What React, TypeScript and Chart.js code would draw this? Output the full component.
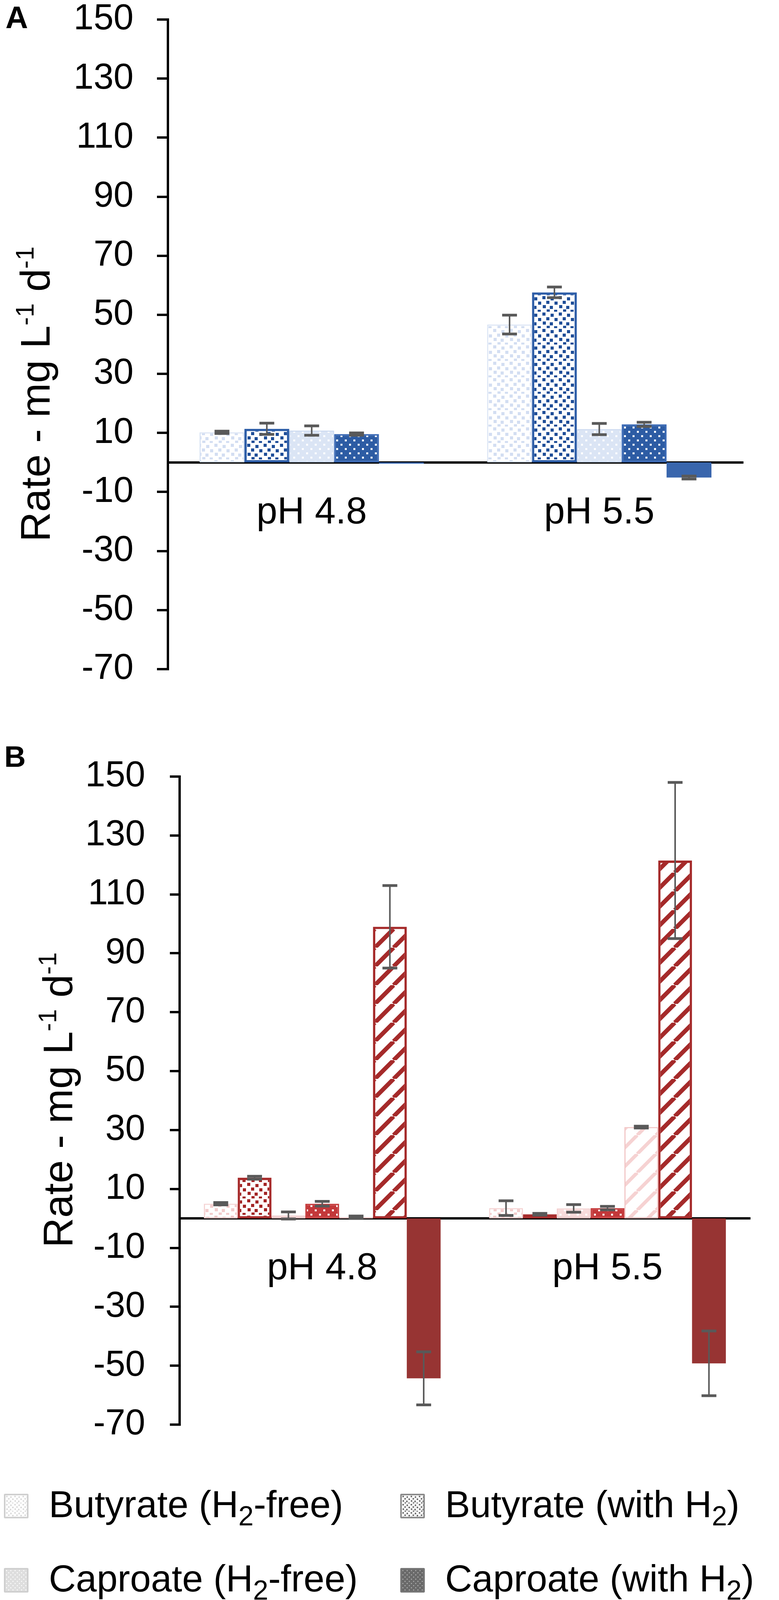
import React, { useEffect, useRef, useState } from "react";
import { Chart, registerables } from "chart.js";

Chart.register(...registerables);

const FONT = "'Liberation Sans', Arial, 'DejaVu Sans', sans-serif";

// ---- data ----
const categories = ["pH 4.8", "pH 5.5"];
const yTickValues = [-70, -50, -30, -10, 10, 30, 50, 70, 90, 110, 130, 150];
// axis title, with the "-1" parts set as superscripts
const axisTitleParts = [
  { text: "Rate - mg L", sup: false },
  { text: "-1", sup: true },
  { text: " d", sup: false },
  { text: "-1", sup: true },
];

// panel A (blue)
const butyrateFreeA = [10.2, 46.7];
const butyrateFreeAErr = [0.4, 3.2];
const butyrateH2A = [11.4, 57.6];
const butyrateH2AErr = [1.9, 1.8];
const caproateFreeA = [10.8, 11.3];
const caproateFreeAErr = [1.6, 1.9];
const caproateH2A = [9.6, 12.9];
const caproateH2AErr = [0.4, 0.7];
const hydrogenA = [-0.4, -5.1];
const hydrogenAErr = [0, 0.5];

// panel B (red)
const butyrateFreeB = [5.0, 3.5];
const butyrateFreeBErr = [0.4, 2.5];
const butyrateH2B = [13.8, 1.4];
const butyrateH2BErr = [0.5, 0.3];
const caproateFreeB = [1.0, 3.4];
const caproateFreeBErr = [1.2, 1.3];
const caproateH2B = [5.0, 3.5];
const caproateH2BErr = [0.8, 0.6];
const methaneFreeB = [0.4, 31.0];
const methaneFreeBErr = [0.4, 0.3];
const methaneH2B = [99.0, 121.5];
const methaneH2BErr = [14.0, 26.5];
const hydrogenB = [-54.3, -49.2];
const hydrogenBErr = [9.0, 11.0];

// ---- fills ----
type Fill = {
  kind: "confetti" | "dots" | "stripes" | "solid";
  fg: string;
  bg: string;
  line?: number;
  scale?: number;
};

const confettiSpots = [
  [3, 2], [24, 5], [13, 14], [34, 16], [4, 25], [22, 27], [14, 36], [33, 37],
];

function makeTile(f: Fill): HTMLCanvasElement {
  const s = f.scale ?? 1;
  const c = document.createElement("canvas");
  const ctx = c.getContext("2d")!;
  if (f.kind === "confetti") {
    const n = Math.round(42 * s);
    c.width = c.height = n;
    ctx.fillStyle = f.bg;
    ctx.fillRect(0, 0, n, n);
    ctx.fillStyle = f.fg;
    for (const [x, y] of confettiSpots) ctx.fillRect(x * s, y * s, 8 * s, 8 * s);
  } else if (f.kind === "dots") {
    const n = Math.round(22 * s);
    c.width = c.height = n;
    ctx.fillStyle = f.bg;
    ctx.fillRect(0, 0, n, n);
    ctx.fillStyle = f.fg;
    ctx.fillRect(3 * s, 3 * s, 5 * s, 5 * s);
    ctx.fillRect(14 * s, 14 * s, 5 * s, 5 * s);
  } else if (f.kind === "stripes") {
    const n = Math.round(48 * s);
    c.width = c.height = n;
    ctx.fillStyle = f.bg;
    ctx.fillRect(0, 0, n, n);
    ctx.strokeStyle = f.fg;
    ctx.lineWidth = (f.line ?? 11) * s;
    for (const k of [-n, 0, n]) {
      ctx.beginPath();
      ctx.moveTo(k, n);
      ctx.lineTo(k + n, 0);
      ctx.stroke();
    }
  } else {
    c.width = c.height = 4;
    ctx.fillStyle = f.fg;
    ctx.fillRect(0, 0, 4, 4);
  }
  return c;
}

type Series = {
  label: string;
  data: number[];
  errors: number[];
  fill: Fill;
  border: string;
  borderWidth: number;
};

const seriesA: Series[] = [
  { label: "Butyrate (H2-free)", data: butyrateFreeA, errors: butyrateFreeAErr, fill: { kind: "confetti", fg: "#d3def2", bg: "#ffffff" }, border: "#dae4f4", borderWidth: 3 },
  { label: "Butyrate (with H2)", data: butyrateH2A, errors: butyrateH2AErr, fill: { kind: "confetti", fg: "#1f4e98", bg: "#ffffff" }, border: "#2e5ea8", borderWidth: 6 },
  { label: "Caproate (H2-free)", data: caproateFreeA, errors: caproateFreeAErr, fill: { kind: "dots", fg: "#ffffff", bg: "#dbe5f5" }, border: "#c9d8f0", borderWidth: 3 },
  { label: "Caproate (with H2)", data: caproateH2A, errors: caproateH2AErr, fill: { kind: "dots", fg: "#ffffff", bg: "#2d5ca4" }, border: "#3a69b5", borderWidth: 4 },
  { label: "H2", data: hydrogenA, errors: hydrogenAErr, fill: { kind: "solid", fg: "#3966ad", bg: "#3966ad" }, border: "#3966ad", borderWidth: 0 },
];

const seriesB: Series[] = [
  { label: "Butyrate (H2-free)", data: butyrateFreeB, errors: butyrateFreeBErr, fill: { kind: "confetti", fg: "#f3cccc", bg: "#ffffff" }, border: "#f5d3d3", borderWidth: 3 },
  { label: "Butyrate (with H2)", data: butyrateH2B, errors: butyrateH2BErr, fill: { kind: "confetti", fg: "#a32525", bg: "#ffffff" }, border: "#a82d2d", borderWidth: 6 },
  { label: "Caproate (H2-free)", data: caproateFreeB, errors: caproateFreeBErr, fill: { kind: "dots", fg: "#ffffff", bg: "#f8dcdc" }, border: "#f3cfcf", borderWidth: 3 },
  { label: "Caproate (with H2)", data: caproateH2B, errors: caproateH2BErr, fill: { kind: "dots", fg: "#ffffff", bg: "#c3383a" }, border: "#c63d3e", borderWidth: 4 },
  { label: "CH4 (H2-free)", data: methaneFreeB, errors: methaneFreeBErr, fill: { kind: "stripes", fg: "#f6d2d2", bg: "#ffffff", line: 9 }, border: "#f2c6c6", borderWidth: 3 },
  { label: "CH4 (with H2)", data: methaneH2B, errors: methaneH2BErr, fill: { kind: "stripes", fg: "#a52a2a", bg: "#ffffff", line: 11 }, border: "#a52a2a", borderWidth: 6 },
  { label: "H2", data: hydrogenB, errors: hydrogenBErr, fill: { kind: "solid", fg: "#973433", bg: "#973433" }, border: "#973433", borderWidth: 0 },
];

const Sub: React.FC<{ children: React.ReactNode }> = ({ children }) => (
  <span style={{ fontSize: "0.73em", position: "relative", top: "0.3em" }}>{children}</span>
);

const legendItems: { text: React.ReactNode; fill: Fill; border: string }[] = [
  { text: <>Butyrate (H<Sub>2</Sub>-free)</>, fill: { kind: "confetti", fg: "#dadada", bg: "#ffffff", scale: 0.5 }, border: "#cfcfcf" },
  { text: <>Butyrate (with H<Sub>2</Sub>)</>, fill: { kind: "confetti", fg: "#6f6f6f", bg: "#ffffff", scale: 0.5 }, border: "#8a8a8a" },
  { text: <>Caproate (H<Sub>2</Sub>-free)</>, fill: { kind: "dots", fg: "#ffffff", bg: "#dedede", scale: 0.5 }, border: "#cfcfcf" },
  { text: <>Caproate (with H<Sub>2</Sub>)</>, fill: { kind: "dots", fg: "#b5b5b5", bg: "#6a6a6a", scale: 0.5 }, border: "#777777" },
  { text: <>CH<Sub>4</Sub> (H<Sub>2</Sub>-free)</>, fill: { kind: "stripes", fg: "#dcdcdc", bg: "#ffffff", line: 9, scale: 0.7 }, border: "#cfcfcf" },
  { text: <>CH<Sub>4</Sub> (with H<Sub>2</Sub>)</>, fill: { kind: "stripes", fg: "#707070", bg: "#ffffff", line: 11, scale: 0.7 }, border: "#7a7a7a" },
  { text: <>H<Sub>2</Sub></>, fill: { kind: "solid", fg: "#6b6b6b", bg: "#6b6b6b" }, border: "#6b6b6b" },
];

// ---- plugins ----
const errorBarPlugin = {
  id: "errorBars",
  afterDatasetsDraw(chart: any) {
    const ctx: CanvasRenderingContext2D = chart.ctx;
    const y = chart.scales.y;
    chart.data.datasets.forEach((ds: any, di: number) => {
      const meta = chart.getDatasetMeta(di);
      if (!ds.errors || meta.hidden) return;
      meta.data.forEach((bar: any, i: number) => {
        const v = ds.data[i] as number;
        const e = ds.errors[i] as number;
        if (!e) return;
        const hi = y.getPixelForValue(v + e);
        const lo = y.getPixelForValue(v - e);
        ctx.save();
        ctx.strokeStyle = "#595959";
        ctx.lineWidth = 4;
        ctx.beginPath();
        ctx.moveTo(bar.x, hi);
        ctx.lineTo(bar.x, lo);
        ctx.stroke();
        ctx.lineWidth = 7;
        ctx.beginPath();
        ctx.moveTo(bar.x - 19, hi);
        ctx.lineTo(bar.x + 19, hi);
        ctx.moveTo(bar.x - 19, lo);
        ctx.lineTo(bar.x + 19, lo);
        ctx.stroke();
        ctx.restore();
      });
    });
  },
};

// rotated y-axis title with superscripts
const axisTitlePlugin = {
  id: "axisTitle",
  afterDraw(chart: any, _args: any, opts: any) {
    const ctx: CanvasRenderingContext2D = chart.ctx;
    const size = 106;
    const supSize = 64;
    const fontOf = (sup: boolean) => `${sup ? supSize : size}px ${FONT}`;
    let total = 0;
    for (const p of axisTitleParts) {
      ctx.font = fontOf(p.sup);
      total += ctx.measureText(p.text).width;
    }
    ctx.save();
    ctx.translate(opts.baseX, opts.centerY);
    ctx.rotate(-Math.PI / 2);
    ctx.fillStyle = "#000";
    ctx.textBaseline = "alphabetic";
    ctx.textAlign = "left";
    let x = -total / 2;
    for (const p of axisTitleParts) {
      ctx.font = fontOf(p.sup);
      ctx.fillText(p.text, x, p.sup ? -41 : 0);
      x += ctx.measureText(p.text).width;
    }
    ctx.restore();
  },
};

interface PanelProps {
  top: number;
  height: number;
  axisX: number;
  plotTop: number;
  plotBottom: number;
  plotRight: number;
  catPct: number;
  tickLen: number;
  tickPad: number;
  titleBaseX: number;
  titleCenterY: number;
  series: Series[];
}

const W = 1995;

const Panel: React.FC<PanelProps> = (p) => {
  const canvasRef = useRef<HTMLCanvasElement | null>(null);

  useEffect(() => {
    if (!canvasRef.current) return;
    const ctx = canvasRef.current.getContext("2d")!;
    const chart = new Chart(canvasRef.current, {
      type: "bar",
      data: {
        labels: categories,
        datasets: p.series.map((s) => ({
          label: s.label,
          data: s.data,
          errors: s.errors,
          backgroundColor: ctx.createPattern(makeTile(s.fill), "repeat") as any,
          borderColor: s.border,
          borderWidth: s.borderWidth,
          borderSkipped: false,
          barPercentage: 1,
          categoryPercentage: p.catPct,
        })) as any,
      },
      options: {
        animation: false,
        responsive: false,
        devicePixelRatio: 1,
        layout: {
          padding: { left: 0, top: p.plotTop, right: W - p.plotRight, bottom: p.height - p.plotBottom },
        },
        plugins: {
          legend: { display: false },
          tooltip: { enabled: false },
          axisTitle: { baseX: p.titleBaseX, centerY: p.titleCenterY },
        } as any,
        scales: {
          x: {
            type: "category",
            position: { y: 0 } as any,
            offset: true,
            grid: { display: true, drawOnChartArea: false, drawTicks: false },
            border: { display: true, color: "#000", width: 6 },
            ticks: { color: "#000", font: { family: FONT, size: 96 }, padding: 72, maxRotation: 0 },
            afterFit: (s: any) => {
              s.paddingLeft = 0;
              s.paddingRight = 0;
            },
          },
          y: {
            type: "linear",
            min: -70,
            max: 150,
            grid: { drawOnChartArea: false, drawTicks: true, tickLength: p.tickLen, color: "#000", lineWidth: 6 },
            border: { display: true, color: "#000", width: 6 },
            ticks: { color: "#000", font: { family: FONT, size: 92 }, padding: p.tickPad },
            afterBuildTicks: (s: any) => {
              s.ticks = yTickValues.map((v) => ({ value: v }));
            },
            afterFit: (s: any) => {
              s.width = p.axisX;
              s.paddingTop = 0;
              s.paddingBottom = 0;
            },
          },
        },
      },
      plugins: [errorBarPlugin, axisTitlePlugin],
    });
    return () => chart.destroy();
  }, [p]);

  return (
    <canvas
      ref={canvasRef}
      width={W}
      height={p.height}
      style={{ position: "absolute", left: 0, top: p.top, width: W, height: p.height }}
    />
  );
};

const Swatch: React.FC<{ fill: Fill; border: string }> = ({ fill, border }) => {
  const [url, setUrl] = useState("");
  useEffect(() => {
    setUrl(makeTile(fill).toDataURL());
  }, [fill]);
  return (
    <div
      style={{
        boxSizing: "border-box",
        width: 63,
        height: 63,
        flex: "0 0 63px",
        borderRadius: 3,
        border: `4px solid ${border}`,
        backgroundImage: url ? `url(${url})` : undefined,
        backgroundColor: fill.kind === "solid" ? fill.fg : "#fff",
      }}
    />
  );
};

const panelA: PanelProps = {
  top: 0, height: 1800, axisX: 430, plotTop: 50, plotBottom: 1713, plotRight: 1903,
  catPct: 0.78, tickLen: 28, tickPad: 60, titleBaseX: 127, titleCenterY: 1009, series: seriesA,
};
const panelB: PanelProps = {
  top: 1850, height: 1900, axisX: 460, plotTop: 138, plotBottom: 1797, plotRight: 1921,
  catPct: 0.83, tickLen: 25, tickPad: 63, titleBaseX: 185, titleCenterY: 966, series: seriesB,
};

const legendCols = [10, 1025];
const legendRows = [3855, 4045, 4230, 4418];

export default function App() {
  return (
    <div style={{ position: "absolute", left: 0, top: 0, width: W, height: 4492, background: "#fff", fontFamily: FONT, overflow: "hidden" }}>
      <div style={{ position: "absolute", left: 14, top: 5, fontSize: 80, fontWeight: 700, lineHeight: "80px" }}>A</div>
      <div style={{ position: "absolute", left: 11, top: 1899, fontSize: 76, fontWeight: 700, lineHeight: "76px" }}>B</div>
      <Panel {...panelA} />
      <Panel {...panelB} />
      {legendItems.map((item, i) => {
        const col = i % 2;
        const row = Math.floor(i / 2);
        return (
          <div
            key={i}
            style={{
              position: "absolute",
              left: legendCols[col],
              top: legendRows[row] - 60,
              height: 120,
              display: "flex",
              alignItems: "center",
              fontSize: 96,
              lineHeight: "120px",
              color: "#000",
              whiteSpace: "nowrap",
            }}
          >
            <Swatch fill={item.fill} border={item.border} />
            <span style={{ marginLeft: 52 }}>{item.text}</span>
          </div>
        );
      })}
    </div>
  );
}
